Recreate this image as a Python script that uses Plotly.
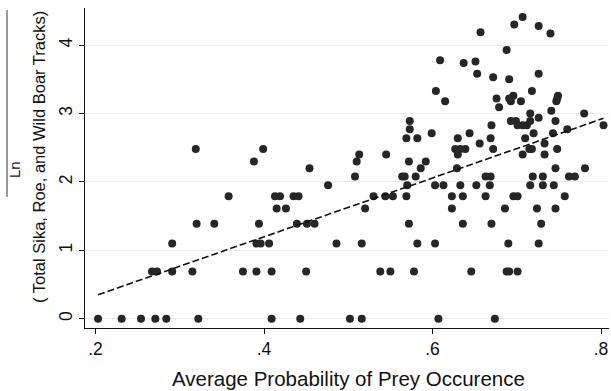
import plotly.graph_objects as go

# Average probability of prey occurrence (x) and Ln(total tracks) (y)
prey_occurrence = [
    0.203, 0.231, 0.254, 0.271, 0.284, 0.322, 0.409, 0.443, 0.502, 0.516, 0.607, 0.674,
    0.267, 0.273, 0.291, 0.315, 0.375, 0.391, 0.409, 0.450, 0.538, 0.550, 0.578, 0.646, 0.688, 0.691, 0.701,
    0.291, 0.391, 0.396, 0.406, 0.486, 0.516, 0.582, 0.603, 0.690, 0.726,
    0.320, 0.341, 0.394, 0.439, 0.451, 0.460, 0.572, 0.636, 0.670, 0.729,
    0.415, 0.426, 0.520, 0.623, 0.686, 0.724, 0.746,
    0.358, 0.413, 0.419, 0.435, 0.441, 0.530, 0.544, 0.553, 0.569, 0.623, 0.636, 0.663, 0.696, 0.701, 0.757,
    0.476, 0.570, 0.603, 0.613, 0.633, 0.652, 0.668, 0.716, 0.731, 0.744,
    0.508, 0.564, 0.567, 0.580, 0.663, 0.669, 0.719, 0.731, 0.762, 0.769,
    0.454, 0.586, 0.629, 0.746, 0.781,
    0.388, 0.510, 0.572, 0.592,
    0.513, 0.545, 0.630, 0.707, 0.733,
    0.319, 0.399, 0.627, 0.633, 0.639, 0.672, 0.715, 0.718, 0.748,
    0.656, 0.733,
    0.569, 0.582, 0.630, 0.669, 0.710,
    0.599, 0.644, 0.720, 0.743,
    0.573, 0.760,
    0.670, 0.701, 0.707, 0.712, 0.803,
    0.573, 0.693, 0.699, 0.716, 0.746,
    0.726, 0.716, 0.780, 0.741, 0.679, 0.615, 0.693, 0.705, 0.747, 0.676,
    0.691, 0.748, 0.696, 0.749, 0.604, 0.718, 0.691, 0.672, 0.653, 0.726,
    0.637, 0.651, 0.609, 0.688, 0.740, 0.657, 0.726, 0.697, 0.707,
]
ln_tracks = [
    0, 0, 0, 0, 0, 0, 0, 0, 0, 0, 0, 0,
    0.69, 0.69, 0.69, 0.69, 0.69, 0.69, 0.69, 0.69, 0.69, 0.69, 0.69, 0.69, 0.69, 0.69, 0.69,
    1.10, 1.10, 1.10, 1.10, 1.10, 1.10, 1.10, 1.10, 1.10, 1.10,
    1.39, 1.39, 1.39, 1.39, 1.39, 1.39, 1.39, 1.39, 1.39, 1.39,
    1.61, 1.61, 1.61, 1.61, 1.61, 1.61, 1.61,
    1.79, 1.79, 1.79, 1.79, 1.79, 1.79, 1.79, 1.79, 1.79, 1.79, 1.79, 1.79, 1.79, 1.79, 1.79,
    1.95, 1.95, 1.95, 1.95, 1.95, 1.95, 1.95, 1.95, 1.95, 1.95,
    2.08, 2.08, 2.08, 2.08, 2.08, 2.08, 2.08, 2.08, 2.08, 2.08,
    2.20, 2.20, 2.20, 2.20, 2.20,
    2.30, 2.30, 2.30, 2.30,
    2.40, 2.40, 2.40, 2.40, 2.40,
    2.48, 2.48, 2.48, 2.48, 2.48, 2.48, 2.48, 2.48, 2.48,
    2.56, 2.56,
    2.64, 2.64, 2.64, 2.64, 2.64,
    2.71, 2.71, 2.71, 2.71,
    2.77, 2.77,
    2.83, 2.83, 2.83, 2.83, 2.83,
    2.89, 2.89, 2.89, 2.89, 2.89,
    2.94, 3.00, 3.00, 3.04, 3.09, 3.18, 3.18, 3.18, 3.18, 3.22,
    3.22, 3.22, 3.26, 3.26, 3.33, 3.33, 3.50, 3.53, 3.58, 3.58,
    3.74, 3.76, 3.78, 3.93, 4.17, 4.19, 4.28, 4.30, 4.41,
]
assert len(prey_occurrence) == len(ln_tracks)

# Fitted line end points
fit_x = [0.203, 0.803]
fit_y = [0.35, 2.93]

x_tick_vals = [0.2, 0.4, 0.6, 0.8]
x_tick_text = [".2", ".4", ".6", ".8"]
y_tick_vals = [0, 1, 2, 3, 4]
y_tick_text = ["0", "1", "2", "3", "4"]

FONT = "Liberation Sans, Arial, sans-serif"
W, H = 611, 391
L, R, T, B = 85, 2, 8, 63
pw, ph = W - L - R, H - T - B


def px_x(p):
    return (p - L) / pw


def px_y(p):
    return (H - B - p) / ph


fig = go.Figure()
fig.add_trace(go.Scatter(
    x=prey_occurrence, y=ln_tracks, mode="markers",
    marker=dict(size=8, color="#262626", line=dict(width=0)),
    showlegend=False, hoverinfo="x+y",
))
fig.add_trace(go.Scatter(
    x=fit_x, y=fit_y, mode="lines",
    line=dict(color="#111111", width=1.6, dash="7px,3px"),
    showlegend=False, hoverinfo="skip",
))

fig.update_layout(
    width=W, height=H,
    margin=dict(l=L, r=R, t=T, b=B, autoexpand=False),
    paper_bgcolor="white", plot_bgcolor="white",
    font=dict(family=FONT, color="#111111"),
    xaxis=dict(
        range=[0.1875, 0.8095], tickvals=x_tick_vals, ticktext=x_tick_text,
        automargin=False,
        showgrid=False, zeroline=False, showline=True, linecolor="#111111", linewidth=1.3,
        ticks="outside", ticklen=5, tickwidth=1.2, tickcolor="#111111",
        tickfont=dict(size=17.5, family=FONT, color="#111111"),
    ),
    yaxis=dict(
        range=[-0.136, 4.543], tickvals=y_tick_vals, ticktext=y_tick_text,
        automargin=False,
        showgrid=True, gridcolor="#ececec", gridwidth=1,
        zeroline=False, showline=True, linecolor="#111111", linewidth=1.3,
        ticks="outside", ticklen=5, tickwidth=1.2, tickcolor="#111111",
        tickangle=-90,
        tickfont=dict(size=17.5, family=FONT, color="#111111"),
    ),
    annotations=[
        dict(text="Average Probability of Prey Occurence", xref="paper", yref="paper",
             x=px_x(348), y=px_y(378), xanchor="center", yanchor="middle",
             showarrow=False, font=dict(size=20.5, family=FONT, color="#111111")),
        dict(text="( Total Sika, Roe, and Wild Boar Tracks)", xref="paper", yref="paper",
             x=px_x(39), y=px_y(157), xanchor="center", yanchor="middle",
             textangle=-90, showarrow=False, font=dict(size=16.5, family=FONT, color="#111111")),
        dict(text="Ln", xref="paper", yref="paper",
             x=px_x(14), y=px_y(170), xanchor="center", yanchor="middle",
             textangle=-90, showarrow=False, font=dict(size=15, family=FONT, color="#111111")),
    ],
    shapes=[
        dict(type="line", xref="paper", yref="paper",
             x0=px_x(7), x1=px_x(7), y0=px_y(10), y1=px_y(197),
             line=dict(color="#333333", width=1)),
    ],
)

fig.write_html(
    "out.html",
    config={"displayModeBar": False},
    post_script="document.body.style.margin='0';document.body.style.padding='0';document.body.style.overflow='hidden';",
)
